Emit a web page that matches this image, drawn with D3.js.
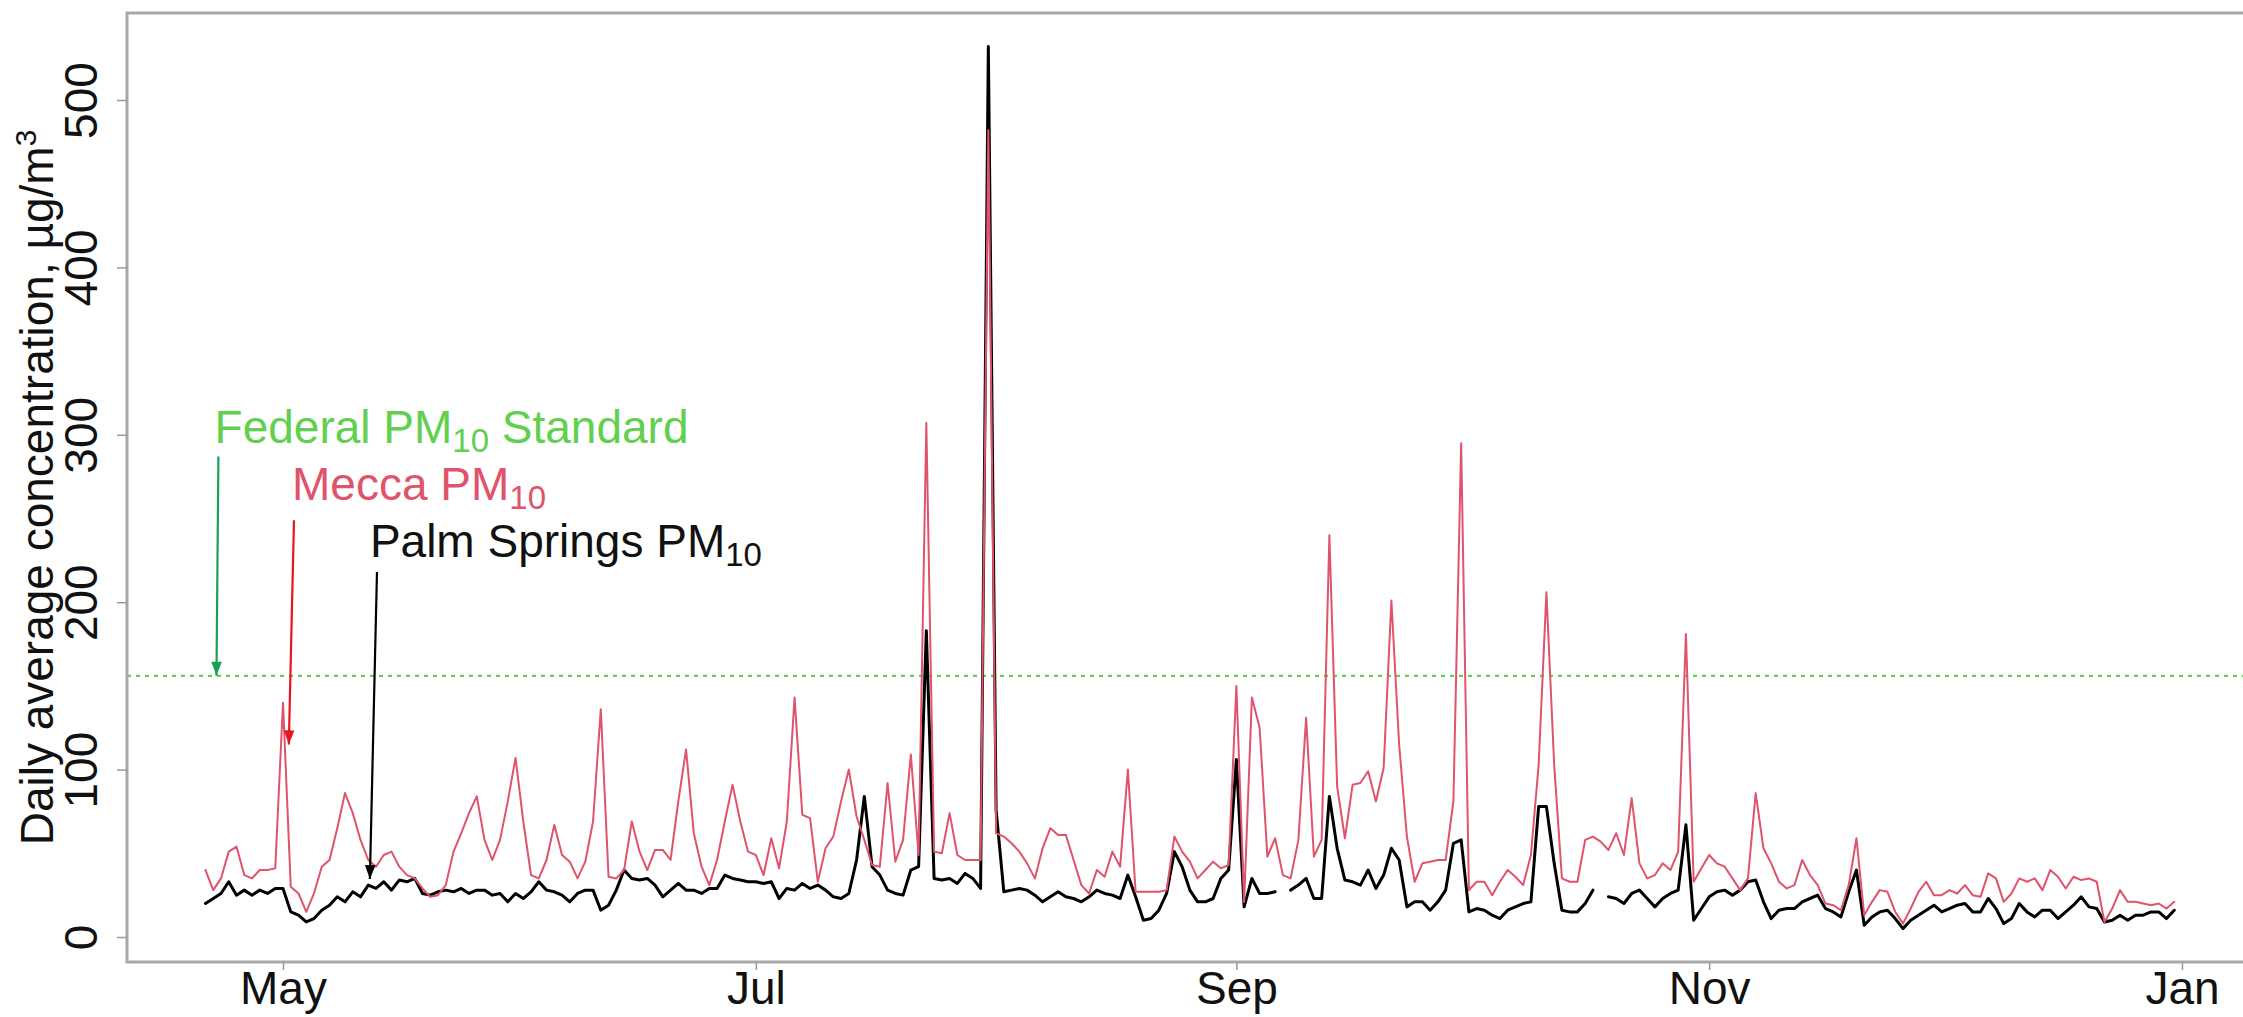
<!DOCTYPE html>
<html><head><meta charset="utf-8">
<script src="https://cdn.jsdelivr.net/npm/d3@7"></script>
<style>
html,body{margin:0;padding:0;background:#fff;overflow:hidden;}
svg{display:block;font-family:"Liberation Sans",Arial,Helvetica,sans-serif;}
</style></head><body>
<svg id="chart" width="2243" height="1017"></svg>
<script>
// ---- data (daily averages, µg/m³), first value = startDate ----
const startDate = "2017-04-21";
const mecca = [
 40,28,35,51,54,37,35,40,40,41,
 140,30,26,15,26,42,46,65,86,74,
 58,46,42,49,51,42,37,35,29,24,
 25,31,51,62,74,84,58,46,58,81,
 107,69,37,35,46,67,49,45,35,45,
 69,136,36,35,40,69,51,40,52,52,
 46,81,112,62,42,31,46,69,91,69,
 51,49,37,59,41,69,143,73,71,33,
 53,60,81,100,72,58,43,42,92,45,
 58,109,49,307,51,50,74,49,46,46,
 46,482,62,60,56,51,44,35,53,65,
 61,61,46,31,26,40,36,51,42,100,
 27,27,27,27,28,60,51,45,35,40,
 45,41,43,150,21,143,125,48,59,37,
 35,58,131,48,58,240,90,59,91,92,
 99,81,101,201,115,60,33,44,45,46,
 46,81,295,28,33,33,25,33,40,36,
 31,49,103,206,103,35,33,33,58,60,
 57,52,62,49,83,44,35,37,44,40,
 51,181,33,41,49,44,42,35,28,35,
 86,53,44,33,29,31,46,37,31,20,
 19,16,31,59,13,21,28,27,15,8,
 17,27,33,25,25,28,26,31,25,24,
 38,35,21,26,35,33,35,28,40,36,
 29,36,34,35,33,9,17,28,21,21,
 20,19,20,17,21
];
const palmSprings = [
 20,23,26,33,25,28,25,28,26,29,
 29,15,13,9,11,16,19,24,21,27,
 24,31,29,33,28,34,33,35,26,25,
 27,28,27,29,26,28,28,25,26,21,
 26,23,27,33,28,27,25,21,26,28,
 28,16,19,28,40,35,34,35,31,24,
 28,32,28,28,26,29,29,37,35,34,
 33,33,32,33,23,29,28,32,29,31,
 28,24,23,26,46,84,42,37,28,26,
 25,40,42,183,35,34,35,32,38,35,
 29,532,76,27,28,29,28,25,21,24,
 27,24,23,21,24,28,26,25,23,37,
 24,10,11,16,26,51,42,28,21,21,
 23,35,40,106,18,35,26,26,27,null,
 28,31,35,23,23,84,53,34,33,31,
 40,29,37,53,46,18,21,21,16,21,
 28,56,58,15,17,16,13,11,16,18,
 20,21,78,78,44,16,15,15,20,28,
 null,24,23,20,26,28,23,18,23,26,
 28,67,10,17,24,27,28,25,28,33,
 34,21,11,16,17,17,21,23,25,17,
 15,12,27,40,7,12,15,16,11,5,
 10,13,16,19,15,17,19,20,15,15,
 23,17,8,11,20,15,12,16,16,11,
 15,19,24,18,17,9,10,13,10,13,
 13,15,15,11,16
];
const monthTicks = ["2017-05-01","2017-07-01","2017-09-01","2017-11-01","2018-01-01"];
const monthLabels = ["May","Jul","Sep","Nov","Jan"];
const yTicks = [0,100,200,300,400,500];
const federalStandard = 156;

// ---- annotations (in data units: date, value) ----
const annotations = [
  {label:"Federal PM", sub:"10", tail:" Standard", color:"#61D04F", arrow:"#1E9E55",
   text:["2017-04-22T04:00",295], from:["2017-04-22T16:00",287], to:["2017-04-22T10:00",federalStandard]},
  {label:"Mecca PM", sub:"10", tail:"", color:"#DF536B", arrow:"#E8141E",
   text:["2017-05-02T04:00",261], from:["2017-05-02T10:00",249], to:["2017-05-01T18:00",115]},
  {label:"Palm Springs PM", sub:"10", tail:"", color:"#111111", arrow:"#000000",
   text:["2017-05-12T05:00",227], from:["2017-05-13T03:00",218], to:["2017-05-12T05:00",34.6]}
];

const svg = d3.select("#chart");
const W = 2243, H = 1017;
const plot = {left:127, top:13, bottom:962, right:2300};
const parse = d3.utcParse("%Y-%m-%d");
const parseT = d3.utcParse("%Y-%m-%dT%H:%M");
const t0 = parse(startDate);
const dates = mecca.map((_,i)=>d3.utcDay.offset(t0,i));
const tickDates = monthTicks.map(parse);

const x = d3.scaleUtc().domain([tickDates[0], tickDates[4]]).range([283, 2182]);
const y = d3.scaleLinear().domain([0,500]).range([937,100]);

svg.append("rect").attr("width",W).attr("height",H).attr("fill","#fff");

// standard line
svg.append("line")
  .attr("x1",plot.left).attr("x2",W).attr("y1",y(federalStandard)).attr("y2",y(federalStandard))
  .attr("stroke","#61D04F").attr("stroke-width",2.2).attr("stroke-dasharray","4,5");

const line = d3.line().defined(d=>d[1]!=null).x(d=>x(d[0])).y(d=>y(d[1]));
svg.append("path").datum(dates.map((d,i)=>[d,palmSprings[i]]))
  .attr("d",line).attr("fill","none").attr("stroke","#000").attr("stroke-width",3)
  .attr("stroke-linejoin","round").attr("stroke-linecap","round");
svg.append("path").datum(dates.map((d,i)=>[d,mecca[i]]))
  .attr("d",line).attr("fill","none").attr("stroke","#DF536B").attr("stroke-width",2)
  .attr("stroke-linejoin","round").attr("stroke-linecap","round");

// box
svg.append("rect").attr("x",plot.left).attr("y",plot.top)
  .attr("width",plot.right-plot.left).attr("height",plot.bottom-plot.top)
  .attr("fill","none").attr("stroke","#a8a8a8").attr("stroke-width",3);

// axes
const fs = 46;
const xAxis = svg.append("g").attr("transform",`translate(0,${plot.bottom})`)
  .call(d3.axisBottom(x).tickValues(tickDates).tickFormat((d,i)=>monthLabels[i]).tickSize(8).tickPadding(1));
xAxis.select(".domain").remove();
xAxis.selectAll("line").attr("stroke","#999").attr("stroke-width",1.5);
xAxis.selectAll("text").attr("font-size",fs).attr("fill","#111").attr("font-family","Liberation Sans, Arial, sans-serif");

const yAxis = svg.append("g").attr("transform",`translate(${plot.left},0)`)
  .call(d3.axisLeft(y).tickValues(yTicks).tickSize(10));
yAxis.select(".domain").remove();
yAxis.selectAll("line").attr("stroke","#999").attr("stroke-width",1.5);
yAxis.selectAll("text")
  .attr("x",0).attr("y",0).attr("dy",0)
  .attr("transform","translate(-30,0) rotate(-90)")
  .attr("text-anchor","middle").attr("font-size",fs).attr("fill","#111")
  .attr("font-family","Liberation Sans, Arial, sans-serif");

// y title
const yt = svg.append("text")
  .attr("transform",`translate(53,${(plot.top+plot.bottom)/2}) rotate(-90)`)
  .attr("text-anchor","middle").attr("font-size",fs).attr("fill","#111");
yt.append("tspan").text("Daily average concentration, µg/m");
yt.append("tspan").text("3").attr("font-size",30).attr("dy",-17);

// annotations
annotations.forEach(a=>{
  const tx = x(parseT(a.text[0])), ty = y(a.text[1]);
  const t = svg.append("text").attr("x",tx).attr("y",ty).attr("font-size",fs).attr("fill",a.color);
  t.append("tspan").text(a.label);
  t.append("tspan").text(a.sub).attr("font-size",33).attr("dy",9);
  if (a.tail) t.append("tspan").text(a.tail).attr("dy",-9);
  const x1 = x(parseT(a.from[0])), y1 = y(a.from[1]);
  const x2 = x(parseT(a.to[0])), y2 = y(a.to[1]);
  svg.append("line").attr("x1",x1).attr("y1",y1).attr("x2",x2).attr("y2",y2)
    .attr("stroke",a.arrow).attr("stroke-width",2.2);
  const ang = Math.atan2(y2-y1,x2-x1), L = 15, hw = 0.36;
  const p = [[x2,y2],
    [x2-L*Math.cos(ang-hw), y2-L*Math.sin(ang-hw)],
    [x2-L*Math.cos(ang+hw), y2-L*Math.sin(ang+hw)]];
  svg.append("path").attr("d","M"+p.map(q=>q.join(",")).join("L")+"Z").attr("fill",a.arrow);
});
</script>
</body></html>
